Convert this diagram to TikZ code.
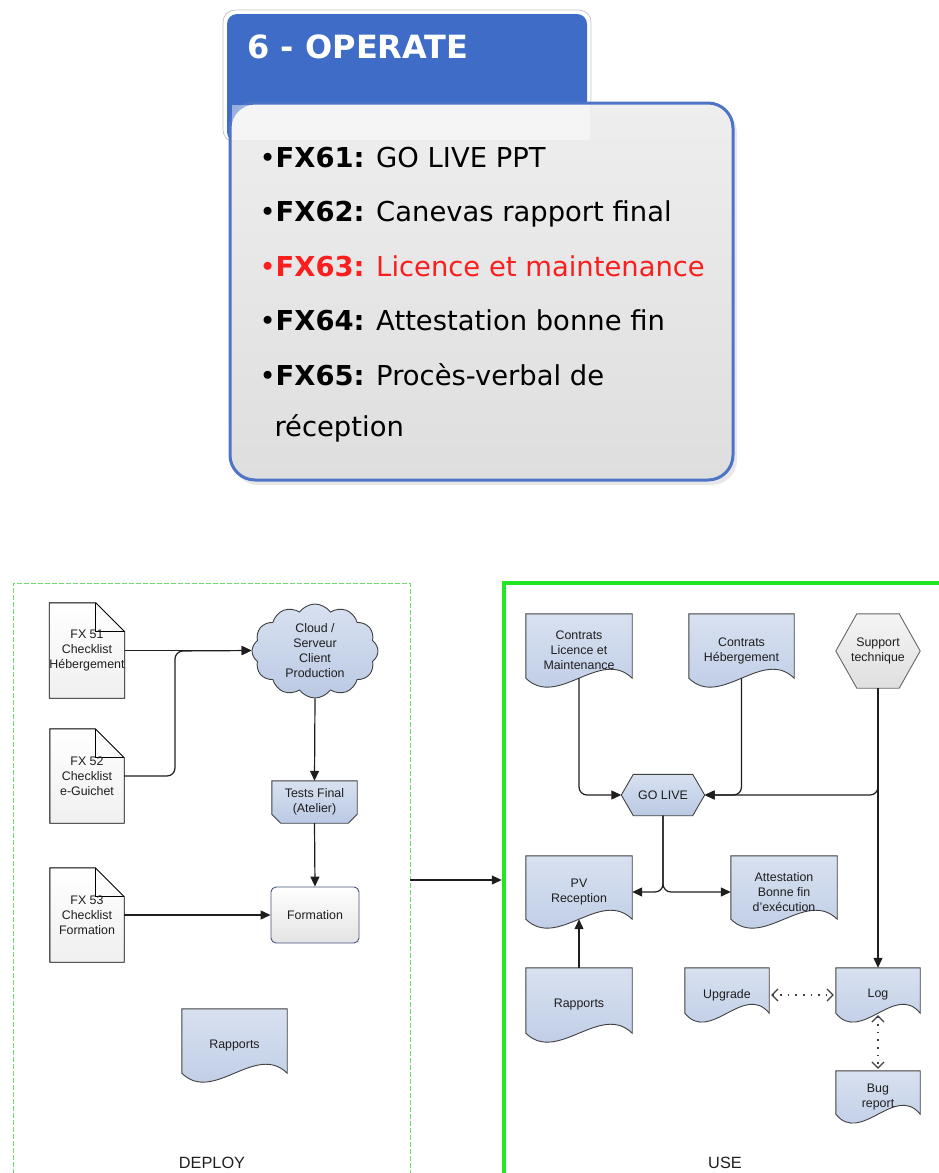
\documentclass[tikz,border=0pt]{standalone}
\usepackage{fontspec}
\setmainfont{Liberation Sans}
\newfontfamily\cardfont{DejaVu Sans}
\usetikzlibrary{shapes.symbols,arrows.meta,calc}

\pgfdeclarelayer{bg}
\pgfsetlayers{bg,main}

\definecolor{tabblue}{RGB}{62,108,198}
\definecolor{cardedge}{RGB}{78,116,200}
\definecolor{docA}{RGB}{216,225,240}
\definecolor{docB}{RGB}{186,201,228}
\definecolor{ink}{RGB}{30,30,30}
\definecolor{usegreen}{RGB}{34,230,34}
\definecolor{deploygreen}{RGB}{110,220,110}
\definecolor{redtxt}{RGB}{250,30,30}

\tikzset{
  x=1pt, y=-1pt,
  lbl/.style={draw=none, inner sep=0pt, align=center, text=ink,
    font=\fontsize{12.4}{15}\selectfont},
  docfill/.style={draw=ink!85, line width=0.9pt, top color=docA, bottom color=docB},
  foldfill/.style={draw=black, line width=0.9pt, top color=white, bottom color=gray!12},
  greyfill/.style={draw=gray!80!black, line width=0.9pt, top color=gray!8, bottom color=gray!25},
  arr/.style={draw=ink, line width=1.2pt, -{Triangle[length=10pt,width=9pt]}},
  rc/.style={rounded corners=8pt},
  barb/.tip={Straight Barb[length=6pt,width=12pt,line width=1.2pt,sep=0pt]},
  dotarr/.style={draw=ink!85, line width=1.6pt, dash pattern=on 1.6pt off 6pt,
    {barb}-{barb}},
  cardline/.style={anchor=base west, text=black,
    font=\cardfont\fontsize{27.4}{34}\selectfont},
}

% document with a wavy bottom edge: name, cx, cy, width, height, text
\newcommand\wavedoc[6]{%
  \node[lbl, minimum width=#4pt, minimum height=#5pt] (#1) at (#2,#3) {#6};
  \begin{pgfonlayer}{bg}
    \path[docfill] (#1.north west) -- (#1.north east) -- ([yshift=9pt]#1.south east)
      .. controls ([xshift=-0.3*#4pt,yshift=40pt]#1.south east)
      and ([xshift=0.3*#4pt,yshift=-22pt]#1.south west) .. ([yshift=9pt]#1.south west) -- cycle;
  \end{pgfonlayer}}

% checklist sheet with a folded corner: name, cx, cy, width, height, text
\newcommand\folddoc[6]{%
  \node[lbl, minimum width=#4pt, minimum height=#5pt] (#1) at (#2,#3) {#6};
  \begin{pgfonlayer}{bg}
    \path[foldfill] (#1.north west) -- ([xshift=-29pt]#1.north east)
      -- ([yshift=-29pt]#1.north east) -- (#1.south east) -- (#1.south west) -- cycle;
    \draw[black, line width=0.9pt] ([xshift=-29pt]#1.north east)
      -- ([xshift=-29pt,yshift=-29pt]#1.north east) -- ([yshift=-29pt]#1.north east);
  \end{pgfonlayer}}

% hexagon: name, cx, cy, width, height, inset, fill style, text
\newcommand\hexnode[8]{%
  \node[lbl, minimum width=#4pt, minimum height=#5pt] (#1) at (#2,#3) {#8};
  \begin{pgfonlayer}{bg}
    \path[#7] (#1.west) -- ([xshift=#6pt]#1.north west) -- ([xshift=-#6pt]#1.north east)
      -- (#1.east) -- ([xshift=-#6pt]#1.south east) -- ([xshift=#6pt]#1.south west) -- cycle;
  \end{pgfonlayer}}

\begin{document}
\begin{tikzpicture}
\useasboundingbox (0,0) rectangle (939,1173);

% ---------- OPERATE card ----------
\draw[gray!45, line width=0.8pt, fill=white, rounded corners=12pt] (223,10) rectangle (591,142);
\fill[tabblue, rounded corners=10pt] (227,14) rectangle (587,142);
\fill[gray!35, opacity=0.5, rounded corners=25pt] (233,108) rectangle (737,485);
\draw[cardedge, line width=3pt, top color={rgb,255:red,238;green,238;blue,238},
  bottom color={rgb,255:red,222;green,222;blue,222}, rounded corners=25pt]
  (230,103) rectangle (733,480);
\fill[white, opacity=0.45] (232,104.5) rectangle (590,140);
\node[anchor=base west, text=white, font=\cardfont\bfseries\fontsize{32}{36}\selectfont]
  (title) at (244,58) {6 - OPERATE};
\node[cardline] (l1) at (256,167) {•\textbf{FX61:} GO LIVE PPT};
\node[cardline] (l2) at (256,221) {•\textbf{FX62:} Canevas rapport final};
\node[cardline, text=redtxt] (l3) at (256,276) {•\textbf{FX63:} Licence et maintenance};
\node[cardline] (l4) at (256,330) {•\textbf{FX64:} Attestation bonne fin};
\node[cardline] (l5) at (256,385) {•\textbf{FX65:} Procès-verbal de};
\node[cardline] (l6) at (271,436) {réception};

% ---------- swimlanes ----------
\node[draw=deploygreen, line width=0.9pt, dash pattern=on 5pt off 2pt,
  minimum width=397pt, minimum height=594pt, inner sep=0pt] (deploy) at (211.5,880) {};
\node[draw=usegreen, line width=4.5pt, minimum width=450pt, minimum height=594pt,
  inner sep=0pt] (use) at (729,880) {};
\node[anchor=base, font=\fontsize{16.3}{18}\selectfont, text=ink] (deployl) at (212,1168) {DEPLOY};
\node[anchor=base, font=\fontsize{16.3}{18}\selectfont, text=ink] (usel) at (725,1168) {USE};

% ---------- DEPLOY lane ----------
\folddoc{fx51}{87}{650.5}{74}{95}{FX 51\\Checklist\\Hébergement}
\folddoc{fx52}{87}{776}{74}{94}{FX 52\\Checklist\\e-Guichet}
\folddoc{fx53}{87}{915}{74}{94}{FX 53\\Checklist\\Formation}

\node[cloud, cloud puffs=12, cloud puff arc=110, draw=ink!85, line width=0.9pt,
  top color=docA, bottom color=docB, minimum width=126pt, minimum height=94pt,
  inner sep=0pt, align=center, text=ink, font=\fontsize{12.4}{15}\selectfont]
  (cloud) at (315,651) {Cloud /\\Serveur\\Client\\Production};

\node[lbl, minimum width=85pt, minimum height=42pt] (tests) at (314.5,802) {Tests Final\\(Atelier)};
\begin{pgfonlayer}{bg}
  \path[docfill] (tests.north west) -- (tests.north east) -- ([yshift=9pt]tests.south east)
    -- ([xshift=-9pt]tests.south east) -- ([xshift=9pt]tests.south west)
    -- ([yshift=9pt]tests.south west) -- cycle;
\end{pgfonlayer}

\node[lbl, draw={rgb,255:red,70;green,82;blue,125}, line width=0.9pt, rounded corners=5pt,
  top color=white, bottom color=gray!22, minimum width=88pt, minimum height=56pt]
  (form) at (315,915) {Formation};

\wavedoc{rap1}{234.5}{1045.5}{105}{73}{Rapports}

\coordinate (jn) at (175,651);
\draw[arr] (fx51.east) -- (fx51.east -| cloud.west);
\draw[arr, rc] (fx52.east) -| (jn) -- (fx51.east -| cloud.west);
\draw[arr] (cloud.south) -- (tests.north);
\draw[arr] (tests.south) -- (form.north);
\draw[arr] (fx53.east) -- (fx53.east -| form.west);

\draw[arr] (deploy.east) -- (use.west);

% ---------- USE lane ----------
\wavedoc{cll}{579}{650.5}{106}{73}{Contrats\\Licence et\\Maintenance}
\wavedoc{ch}{741.5}{650.5}{105}{73}{Contrats\\Hébergement}
\hexnode{sup}{878}{651}{84}{74}{21}{greyfill}{Support\\technique}
\hexnode{golive}{663}{795}{83}{41}{12}{docfill}{GO LIVE}
\wavedoc{pv}{579}{892}{106}{72}{PV\\Reception}
\wavedoc{att}{784}{892}{106}{72}{Attestation\\Bonne fin\\d'exécution}
\wavedoc{rap2}{579}{1005}{106}{74}{Rapports}
\wavedoc{upg}{727}{995}{84}{54}{Upgrade}
\wavedoc{log}{878}{995}{84}{54}{Log}
\wavedoc{bug}{878}{1097}{84}{52}{Bug\\report}

\draw[arr, rc] ([yshift=9pt]cll.south) |- (golive.west);
\draw[arr, rc] ([yshift=9pt]ch.south) |- (golive.east);
\draw[arr, rc] (sup.south) |- (golive.east);
\draw[arr] (sup.south) -- (log.north);
\draw[arr, rc] (golive.south) |- (pv.east);
\draw[arr, rc] (golive.south) |- (att.west);
\draw[arr] (rap2.north) -- ([yshift=9pt]pv.south);
\draw[dotarr] ([xshift=2pt]upg.east) -- ([xshift=-2pt]log.west);
\draw[dotarr] ([yshift=7pt]log.south) -- ([yshift=2pt]bug.north);
\end{tikzpicture}
\end{document}
